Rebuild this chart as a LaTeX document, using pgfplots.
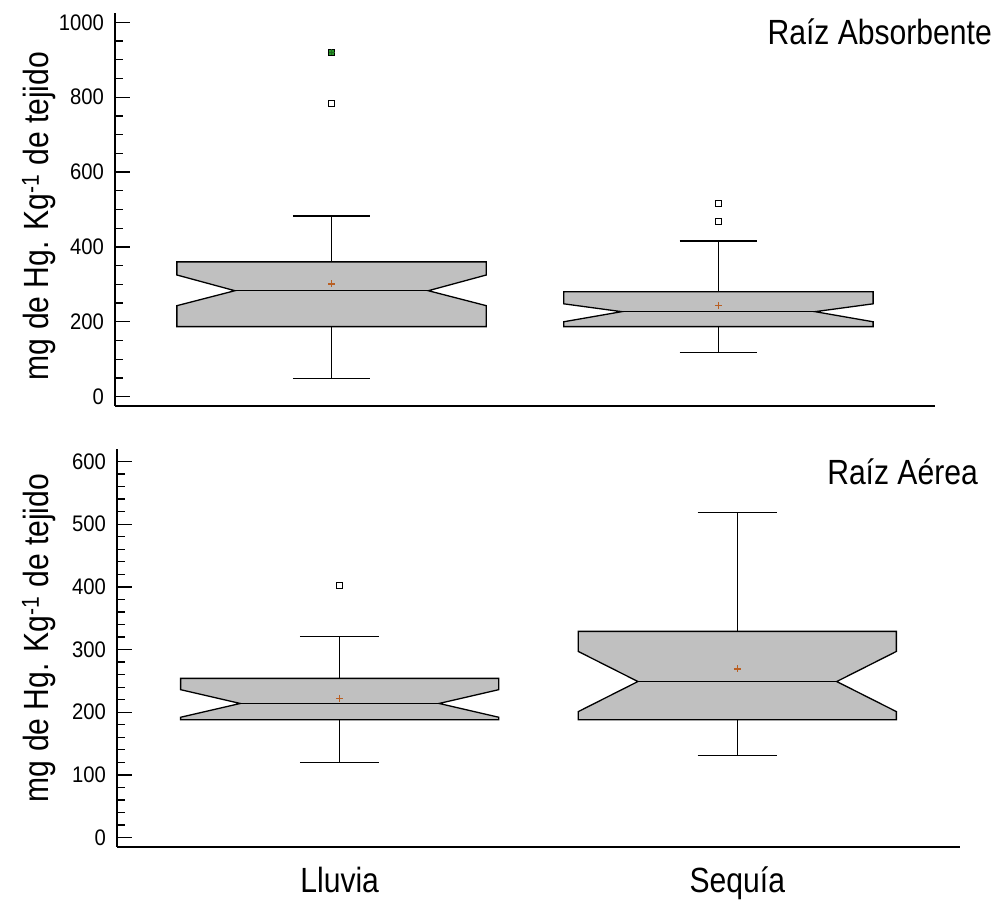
\documentclass[border=0pt]{standalone}
\usepackage{fontspec}
\setmainfont{Liberation Sans}
\newfontfamily\labfont{Liberation Sans}[FakeStretch=0.86]
\newfontfamily\tickfont{Liberation Sans}[FakeStretch=0.9]
\usepackage{pgfplots}
\pgfplotsset{compat=1.18}
\definecolor{boxgray}{RGB}{192,192,192}
\definecolor{meancol}{RGB}{185,95,35}
\definecolor{outgreen}{RGB}{40,150,40}
\begin{document}
\begin{tikzpicture}
\useasboundingbox (0,0) rectangle (998pt,901pt);
\pgfplotsset{
  mybox/.style={draw=black, line width=1.3pt, fill=boxgray},
  wl/.style={black, line width=1.3pt},
  outl/.style={black, only marks, mark=square*, mark size=3pt, mark options={fill=white, draw=black, line width=1pt}},
  meanm/.style={meancol, only marks, mark=+, mark size=3.5pt, mark options={draw=meancol, line width=1.1pt}},
  common/.style={scale only axis, axis lines*=left, axis line style={line width=1.6pt,-},
    xmin=0.44, xmax=2.56, xtick={1,2}, x tick style={draw=none},
    tick align=inside, ytick pos=left, major tick length=15pt, minor tick length=8pt,
    y tick style={line width=1.3pt, black},
    tick label style={font=\tickfont\fontsize{22.5}{26}\selectfont},
    yticklabel style={inner sep=0pt, xshift=-11pt},
    clip=false, /pgf/number format/assume math mode=true, /pgf/number format/1000 sep={}}
}
% ---------- top axis ----------
\begin{axis}[common, at={(115pt,495pt)}, anchor=south west, width=820pt, height=393pt,
  ymin=-25, ymax=1025, ytick={0,200,...,1000}, minor y tick num=3, xticklabels={}]
% Lluvia
\addplot[wl] coordinates {(1,360) (1,483)};
\addplot[wl] coordinates {(0.9,483) (1.1,483)};
\addplot[wl] coordinates {(1,187) (1,48)};
\addplot[wl] coordinates {(0.9,48) (1.1,48)};
\addplot[mybox] coordinates {(0.6,187) (1.4,187) (1.4,243) (1.25,283) (1.4,325) (1.4,360) (0.6,360) (0.6,325) (0.75,283) (0.6,243)} -- cycle;
\addplot[wl] coordinates {(0.75,283) (1.25,283)};
\addplot[meanm] coordinates {(1,301)};
\addplot[outl] coordinates {(1,784)};
\addplot[black, only marks, mark=square*, mark size=3pt, mark options={fill=outgreen, draw=black, line width=1pt}] coordinates {(1,920)};
\addplot[outgreen, only marks, mark=+, mark size=3pt, mark options={draw=outgreen!70!black, line width=1pt}] coordinates {(1,920)};
% Sequia
\addplot[wl] coordinates {(2,280) (2,416)};
\addplot[wl] coordinates {(1.9,416) (2.1,416)};
\addplot[wl] coordinates {(2,187) (2,117)};
\addplot[wl] coordinates {(1.9,117) (2.1,117)};
\addplot[mybox] coordinates {(1.6,187) (2.4,187) (2.4,200) (2.25,227) (2.4,248) (2.4,280) (1.6,280) (1.6,248) (1.75,227) (1.6,200)} -- cycle;
\addplot[wl] coordinates {(1.75,227) (2.25,227)};
\addplot[meanm] coordinates {(2,243)};
\addplot[outl] coordinates {(2,469) (2,517)};
\node[anchor=base east, inner sep=0pt, font=\labfont\fontsize{35}{40}\selectfont] at (rel axis cs:1.0695,0.9186) {Raíz Absorbente};
\end{axis}
% ---------- bottom axis ----------
\begin{axis}[common, at={(117pt,54pt)}, anchor=south west, width=843pt, height=398pt,
  ymin=-15, ymax=620, ytick={0,100,...,600}, minor y tick num=4,
  xticklabels={Lluvia,Sequía},
  xticklabel style={anchor=base, inner sep=0pt, yshift=-46pt, font=\labfont\fontsize{35}{40}\selectfont}]
% Lluvia
\addplot[wl] coordinates {(1,254) (1,321)};
\addplot[wl] coordinates {(0.9,321) (1.1,321)};
\addplot[wl] coordinates {(1,188) (1,120)};
\addplot[wl] coordinates {(0.9,120) (1.1,120)};
\addplot[mybox] coordinates {(0.6,188) (1.4,188) (1.4,192) (1.25,214) (1.4,236) (1.4,254) (0.6,254) (0.6,236) (0.75,214) (0.6,192)} -- cycle;
\addplot[wl] coordinates {(0.75,214) (1.25,214)};
\addplot[meanm] coordinates {(1,222)};
\addplot[outl] coordinates {(1,402)};
% Sequia
\addplot[wl] coordinates {(2,329) (2,519)};
\addplot[wl] coordinates {(1.9,519) (2.1,519)};
\addplot[wl] coordinates {(2,188) (2,131)};
\addplot[wl] coordinates {(1.9,131) (2.1,131)};
\addplot[mybox] coordinates {(1.6,188) (2.4,188) (2.4,201) (2.25,249) (2.4,297) (2.4,329) (1.6,329) (1.6,297) (1.75,249) (1.6,201)} -- cycle;
\addplot[wl] coordinates {(1.75,249) (2.25,249)};
\addplot[meanm] coordinates {(2,269)};
\node[anchor=base east, inner sep=0pt, font=\labfont\fontsize{35}{40}\selectfont] at (rel axis cs:1.0214,0.91) {Raíz Aérea};
\end{axis}
\node[rotate=90, anchor=base, inner sep=0pt, font=\labfont\fontsize{35}{40}\selectfont] at (48pt,685pt) {mg de Hg. Kg\textsuperscript{-1} de tejido};
\node[rotate=90, anchor=base, inner sep=0pt, font=\labfont\fontsize{35}{40}\selectfont] at (48pt,263pt) {mg de Hg. Kg\textsuperscript{-1} de tejido};
\end{tikzpicture}
\end{document}
